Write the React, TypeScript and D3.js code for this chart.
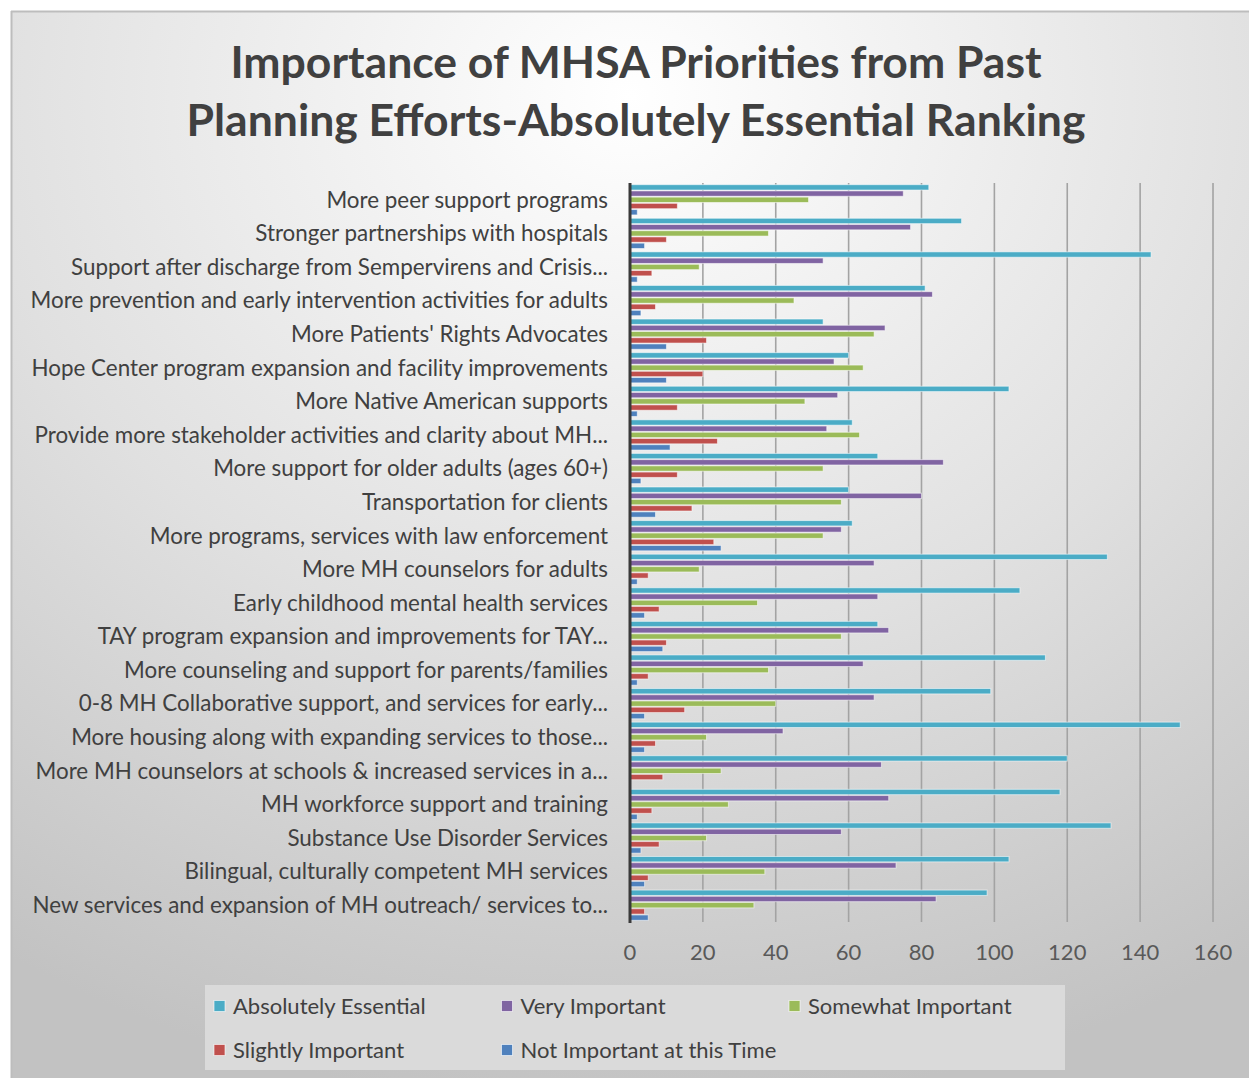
import React from "react";
import * as d3 from "d3";

const categories = [
  "More peer support programs",
  "Stronger partnerships with hospitals",
  "Support after discharge from Sempervirens and Crisis...",
  "More prevention and early intervention activities for adults",
  "More Patients' Rights Advocates",
  "Hope Center program expansion and facility improvements",
  "More Native American supports",
  "Provide more stakeholder activities and clarity about MH...",
  "More support for older adults (ages 60+)",
  "Transportation for clients",
  "More programs, services with law enforcement",
  "More MH counselors for adults",
  "Early childhood mental health services",
  "TAY program expansion and improvements for TAY...",
  "More counseling and support for parents/families",
  "0-8 MH Collaborative support, and services for early...",
  "More housing along with expanding services to those...",
  "More MH counselors at schools & increased services in a...",
  "MH workforce support and training",
  "Substance Use Disorder Services",
  "Bilingual, culturally competent MH services",
  "New services and expansion of MH outreach/ services to...",
];

const seriesNames = [
  "Absolutely Essential",
  "Very Important",
  "Somewhat Important",
  "Slightly Important",
  "Not Important at this Time",
];

const absolutelyEssential = [82, 91, 143, 81, 53, 60, 104, 61, 68, 60, 61, 131, 107, 68, 114, 99, 151, 120, 118, 132, 104, 98];
const veryImportant = [75, 77, 53, 83, 70, 56, 57, 54, 86, 80, 58, 67, 68, 71, 64, 67, 42, 69, 71, 58, 73, 84];
const somewhatImportant = [49, 38, 19, 45, 67, 64, 48, 63, 53, 58, 53, 19, 35, 58, 38, 40, 21, 25, 27, 21, 37, 34];
const slightlyImportant = [13, 10, 6, 7, 21, 20, 13, 24, 13, 17, 23, 5, 8, 10, 5, 15, 7, 9, 6, 8, 5, 4];
const notImportant = [2, 4, 2, 3, 10, 10, 2, 11, 3, 7, 25, 2, 4, 9, 2, 4, 4, 0, 2, 3, 4, 5];

const seriesValues = [absolutelyEssential, veryImportant, somewhatImportant, slightlyImportant, notImportant];
const seriesColors = ["#4BACC6", "#8064A2", "#9BBB59", "#C0504D", "#4F81BD"];
const xTicks = [0, 20, 40, 60, 80, 100, 120, 140, 160];

const titleLines = [
  "Importance of MHSA Priorities from Past",
  "Planning Efforts-Absolutely Essential Ranking",
];

export default function App() {
  const W = 1249;
  const H = 1078;
  const plot = { left: 630, right: 1213, top: 183, bottom: 922 };

  const x = d3.scaleLinear().domain([0, 160]).range([plot.left, plot.right]);
  const y = d3
    .scaleBand<string>()
    .domain(categories)
    .range([plot.top, plot.bottom])
    .paddingInner(0.1)
    .paddingOuter(0.05);
  const ySub = d3
    .scaleBand<string>()
    .domain(seriesNames)
    .range([0, y.bandwidth()])
    .paddingInner(0.14);

  const font = "Lato, 'Open Sans', sans-serif";

  const legendItems = seriesNames.map((name, i) => ({
    name,
    color: seriesColors[i],
    col: i % 3,
    row: Math.floor(i / 3),
  }));

  return (
    <svg
      width={W}
      height={H}
      style={{ position: "absolute", left: 0, top: 0, display: "block" }}
    >
      <defs>
        <radialGradient id="bg" cx="50%" cy="8%" r="95%" fx="50%" fy="8%">
          <stop offset="0%" stopColor="#ffffff" />
          <stop offset="55%" stopColor="#e0e0e0" />
          <stop offset="100%" stopColor="#c2c2c2" />
        </radialGradient>
      </defs>
      <rect x={0} y={0} width={W} height={H} fill="#ffffff" />
      <rect x={11} y={11} width={W - 11} height={H - 11} fill="url(#bg)" />
      <line x1={11} y1={11.5} x2={W} y2={11.5} stroke="#bdbdbd" strokeWidth={2} />
      <line x1={11.5} y1={11} x2={11.5} y2={H} stroke="#bdbdbd" strokeWidth={2} />

      {titleLines.map((t, i) => (
        <text
          key={i}
          x={636}
          y={78 + i * 58}
          textAnchor="middle"
          fontFamily={font}
          fontWeight={700}
          fontSize={44.5}
          fill="#404040"
        >
          {t}
        </text>
      ))}

      {xTicks.slice(1).map((t) => (
        <line
          key={t}
          x1={x(t)}
          x2={x(t)}
          y1={plot.top}
          y2={plot.bottom}
          stroke="#a3a3a3"
          strokeWidth={1.6}
        />
      ))}

      {categories.map((c, ci) => (
        <g key={c} transform={`translate(0,${y(c)})`}>
          {seriesNames.map((s, si) => {
            const v = seriesValues[si][ci];
            if (v <= 0) return null;
            return (
              <rect
                key={s}
                x={x(0)}
                y={ySub(s)}
                width={x(v) - x(0)}
                height={ySub.bandwidth()}
                fill={seriesColors[si]}
                stroke="rgba(255,255,255,0.55)"
                strokeWidth={1}
              />
            );
          })}
        </g>
      ))}

      <line
        x1={x(0)}
        x2={x(0)}
        y1={plot.top}
        y2={plot.bottom + 1}
        stroke="#3a3a3a"
        strokeWidth={3}
      />

      {categories.map((c) => (
        <text
          key={c}
          x={608}
          y={(y(c) ?? 0) + y.bandwidth() / 2}
          dy="0.35em"
          textAnchor="end"
          fontFamily={font}
          fontSize={22.4}
          fill="#404040"
        >
          {c}
        </text>
      ))}

      {xTicks.map((t) => (
        <text
          key={t}
          x={x(t)}
          y={952}
          dy="0.35em"
          textAnchor="middle"
          fontFamily={font}
          fontSize={22}
          fill="#595959"
        >
          {t}
        </text>
      ))}

      <rect x={205} y={985} width={860} height={85} fill="#dadada" />
      {legendItems.map((it) => {
        const lx = 214 + it.col * 287.5;
        const ly = 1006 + it.row * 44;
        return (
          <g key={it.name}>
            <rect
              x={lx}
              y={ly - 5.5}
              width={11}
              height={11}
              fill={it.color}
              stroke="rgba(255,255,255,0.6)"
              strokeWidth={1}
            />
            <text
              x={lx + 19}
              y={ly}
              dy="0.35em"
              fontFamily={font}
              fontSize={22}
              fill="#404040"
            >
              {it.name}
            </text>
          </g>
        );
      })}
    </svg>
  );
}
